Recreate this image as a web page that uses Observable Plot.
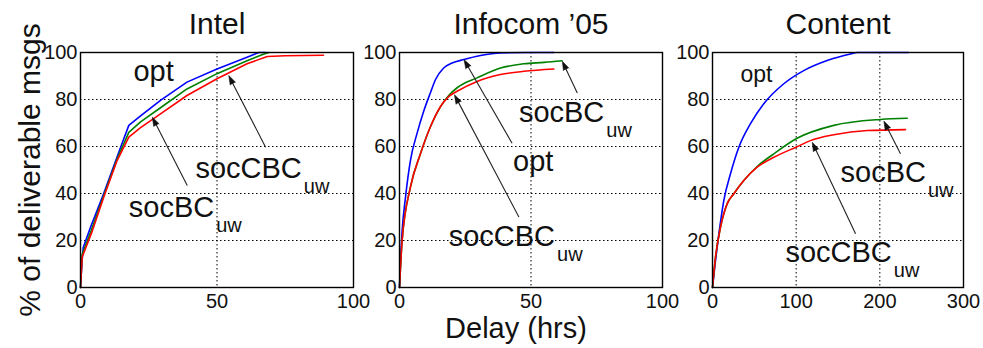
<!DOCTYPE html>
<html><head><meta charset="utf-8">
<script src="https://cdn.jsdelivr.net/npm/d3@7"></script>
<script src="https://cdn.jsdelivr.net/npm/@observablehq/plot@0.6"></script>
<style>
body{margin:0;background:#fff;}
#wrap{position:relative;width:983px;height:348px;overflow:hidden;}
#wrap svg{position:absolute;left:0;top:0;}
</style></head><body><div id="wrap"></div>
<script>
// ---------- data ----------
const panelTitles = ["Intel", "Infocom \u201905", "Content"];
const xDomains = [[0, 100], [0, 100], [0, 300]];
const xTickValues = [[0, 50, 100], [0, 50, 100], [0, 100, 200, 300]];
const yTickValues = [0, 20, 40, 60, 80, 100];
const seriesNames = ["opt", "socBC_uw", "socCBC_uw"];
const seriesColors = ["#0000ff", "#008000", "#ff0000"];

// Intel
const intelOptX = [0, 0.5, 1, 3.7, 8.5, 14.7, 17.7, 22, 29.3, 39, 50, 61, 65.3, 68];
const intelOptY = [0, 10, 17, 25.7, 40, 59.7, 69, 73, 79.6, 87.4, 93, 98, 100, 100];
const intelBCX = [0, 0.6, 4, 8.5, 13.5, 17.7, 22, 29.3, 39, 50, 61, 67, 69];
const intelBCY = [0, 14, 24.5, 39, 55, 66, 70.5, 76.5, 84.5, 91, 96.5, 99.3, 100];
const intelCBCX = [0, 0.6, 4.3, 8.5, 13.4, 17.7, 22, 29.3, 39, 50, 61, 68.4, 75, 89];
const intelCBCY = [0, 12.9, 24, 38.4, 54, 64, 68, 73.9, 81.7, 88.8, 95.2, 98.3, 98.6, 98.8];

// Infocom '05
const infoOptX = [0, 0.4, 1, 2.3, 4.2, 6.7, 9.2, 11.8, 13.7, 16.8, 20, 24.5, 30.8, 38.4, 50, 58.7];
const infoOptY = [0, 11.5, 24, 38.6, 54.3, 65.7, 75, 83, 88.5, 93.4, 95.5, 97, 98.7, 99.8, 100, 100];
const infoBCX = [0, 1, 4.2, 8, 11.8, 15.6, 18.8, 21.9, 29.5, 38.4, 47.3, 55, 61.8];
const infoBCY = [0, 20, 42.9, 57, 68.5, 77, 81.8, 85, 89.2, 93.4, 95.2, 95.8, 96.5];
const infoCBCX = [0, 1, 4.2, 8, 11.8, 15.6, 18.8, 21.9, 29.5, 38.4, 47.3, 58.7];
const infoCBCY = [0, 20, 42.9, 57, 68.5, 77, 81.3, 83.5, 87.7, 90.6, 92, 93];

// Content
const contOptX = [0, 3.6, 7.6, 13.5, 21.5, 31.5, 45.4, 61.3, 85.2, 109, 137, 165, 173, 234.6];
const contOptY = [0, 11.5, 22.8, 37, 48.4, 59.7, 69.7, 78.2, 86.7, 92.3, 96.6, 99.4, 100, 100];
const contBCX = [0, 3.6, 9.6, 17.5, 25.5, 37.4, 53.4, 73.3, 101, 145, 200.8, 232.7];
const contBCY = [0, 12.9, 25.7, 35.6, 39.9, 45.5, 51.5, 56.9, 63.5, 69, 71.5, 72];
const contCBCX = [0, 3.6, 9.6, 17.5, 25.5, 37.4, 53.4, 73.3, 101, 117, 145, 185, 230.7];
const contCBCY = [0, 12.9, 25.7, 35.6, 39.9, 45.5, 51.2, 55.4, 59.9, 62.5, 65, 66.8, 67.2];

// annotations (label, subscript, text anchor in data coords, arrow tail -> head)
const intelAnnLabel = ["opt", "socCBC", "socBC"];
const intelAnnSub = ["", "uw", "uw"];
const intelAnnX = [19.4, 42.1, 17.7];
const intelAnnY = [87.7, 46.7, 29.9];
const intelArrow = [null, [67.8, 59.7, 54.3, 90.2], [39.1, 43.4, 26.3, 72.5]];

const infoAnnLabel = ["socBC", "opt", "socCBC"];
const infoAnnSub = ["uw", "", "uw"];
const infoAnnX = [45.4, 43.2, 18.7];
const infoAnnY = [70.6, 49.7, 17.6];
const infoArrow = [[67.6, 82.8, 61.9, 96.3], [42.8, 61.4, 24.5, 97], [45.4, 30, 20.9, 82]];

const contAnnLabel = ["opt", "socBC", "socCBC"];
const contAnnSub = ["", "uw", "uw"];
const contAnnX = [33.5, 153, 87.2];
const contAnnY = [87.4, 44.8, 10.8];
const contArrow = [null, [224.7, 56.9, 204.8, 70.8], [171, 22.9, 119.2, 61.8]];

const yLabel = "% of deliverable msgs";
const xLabel = "Delay (hrs)";

// ---------- build ----------
const FONT = "'Liberation Sans', Arial, Helvetica, sans-serif";
const W = 983, H = 348;
const frames = [[80, 353], [399, 662], [712, 963]];
const TOP = 52, BOTTOM = 287;
const ctx = document.createElement("canvas").getContext("2d");
function textWidth(s, size) { ctx.font = `${size}px ${FONT}`; return ctx.measureText(s).width; }

const panels = [
  {series: [[intelOptX, intelOptY], [intelBCX, intelBCY], [intelCBCX, intelCBCY]], curve: "linear",
   ann: [intelAnnLabel, intelAnnSub, intelAnnX, intelAnnY, intelArrow], optSize: 29},
  {series: [[infoOptX, infoOptY], [infoBCX, infoBCY], [infoCBCX, infoCBCY]], curve: "monotone-x",
   ann: [infoAnnLabel, infoAnnSub, infoAnnX, infoAnnY, infoArrow], optSize: 29},
  {series: [[contOptX, contOptY], [contBCX, contBCY], [contCBCX, contCBCY]], curve: "monotone-x",
   ann: [contAnnLabel, contAnnSub, contAnnX, contAnnY, contArrow], optSize: 23}
];

const wrap = document.getElementById("wrap");
panels.forEach((p, i) => {
  const [L, R] = frames[i];
  const xt = xTickValues[i];
  const xmax = xDomains[i][1];
  const sx = (R - L) / xmax, sy = (BOTTOM - TOP) / 100;
  const marks = [
    Plot.gridX(xt, {stroke: "#000", strokeOpacity: 1, strokeWidth: 1, strokeDasharray: "1.5,2.5"}),
    Plot.gridY(yTickValues, {stroke: "#000", strokeOpacity: 1, strokeWidth: 1, strokeDasharray: "1.5,2.5"}),
    Plot.axisX(xt, {tickSize: 0, tickPadding: 6, label: null, fontSize: 20}),
    Plot.axisY(yTickValues, {tickSize: 0, tickPadding: 3, label: null, fontSize: 20}),
  ];
  p.series.forEach(([xs, ys], k) => {
    marks.push(Plot.line(xs.map((x, j) => ({x, y: ys[j]})), {
      x: "x", y: "y", stroke: seriesColors[k], strokeWidth: 1.6, curve: p.curve
    }));
  });
  marks.push(Plot.frame({stroke: "#000", strokeWidth: 1.4}));
  const [labels, subs, ax, ay, arrows] = p.ann;
  labels.forEach((lab, k) => {
    const size = lab === "opt" ? p.optSize : 29;
    marks.push(Plot.text([{x: ax[k], y: ay[k], t: lab}], {
      x: "x", y: "y", text: "t", textAnchor: "start", lineAnchor: "bottom",
      fontSize: size, fill: "#111"
    }));
    if (subs[k]) {
      marks.push(Plot.text([{x: ax[k], y: ay[k], t: subs[k]}], {
        x: "x", y: "y", text: "t", textAnchor: "start", lineAnchor: "bottom",
        fontSize: 20, fill: "#111", dx: textWidth(lab, size) + 2, dy: 15
      }));
    }
    if (arrows[k]) {
      const [x1, y1, x2, y2] = arrows[k];
      const px = (x2 - x1) * sx, py = -(y2 - y1) * sy;
      const ang = Math.atan2(px, -py) * 180 / Math.PI;
      const headLen = 9;
      const d = Math.hypot(px, py);
      const f = (d - headLen + 1) / d;
      marks.push(Plot.link([{x1, y1, x2: x1 + (x2 - x1) * f, y2: y1 + (y2 - y1) * f}], {
        x1: "x1", y1: "y1", x2: "x2", y2: "y2", stroke: "#222", strokeWidth: 1.1
      }));
      marks.push(Plot.vector([{x: x2, y: y2}], {
        x: "x", y: "y", rotate: ang, length: headLen, r: 3, shape: "spike", anchor: "end",
        fill: "#111", stroke: "#111", strokeWidth: 0.5
      }));
    }
  });
  marks.push(Plot.text([panelTitles[i]], {text: d => d, frameAnchor: "top", dy: -19,
    lineAnchor: "bottom", fontSize: 30, fill: "#111"}));
  if (i === 0) {
    marks.push(Plot.text([yLabel], {text: d => d, frameAnchor: "left", textAnchor: "middle",
      rotate: -90, dx: -50, fontSize: 30, fill: "#111"}));
  }
  if (i === 1) {
    marks.push(Plot.text([xLabel], {text: d => d, frameAnchor: "bottom", textAnchor: "middle",
      dx: -15, dy: 50, lineAnchor: "bottom", fontSize: 29, fill: "#111"}));
  }
  const svg = Plot.plot({
    width: W, height: H,
    marginLeft: L, marginRight: W - R, marginTop: TOP, marginBottom: H - BOTTOM,
    style: {background: "transparent", fontFamily: FONT, color: "#111", overflow: "visible"},
    x: {domain: xDomains[i]},
    y: {domain: [0, 100]},
    marks
  });
  wrap.appendChild(svg);
});
</script>
</body></html>
